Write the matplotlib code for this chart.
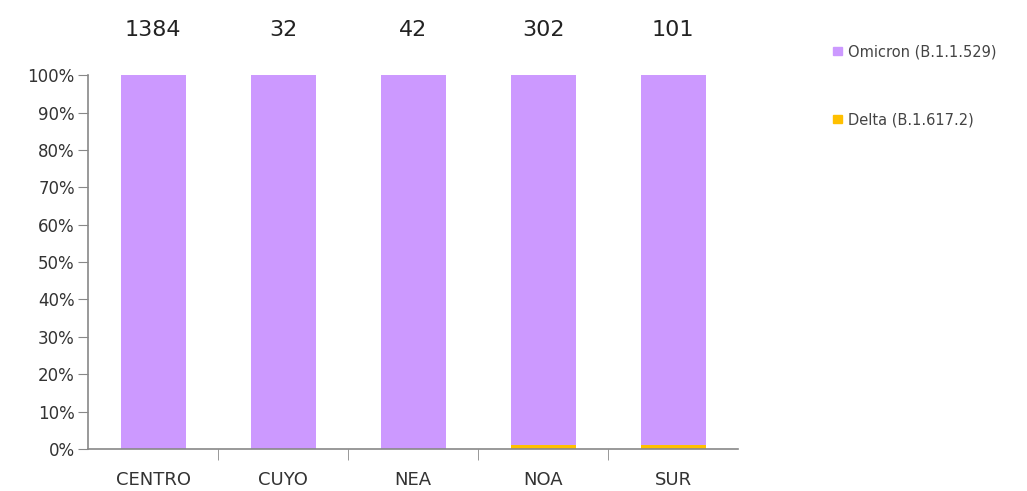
import matplotlib
matplotlib.use("Agg")
import matplotlib.pyplot as plt
from matplotlib.ticker import FuncFormatter, FixedLocator
import numpy as np

regions = ["CENTRO", "CUYO", "NEA", "NOA", "SUR"]
totals = [1384, 32, 42, 302, 101]
delta = [0.0, 0.0, 0.0, 0.01, 0.01]
omicron = [1.0, 1.0, 1.0, 0.99, 0.99]
series_names = ["Omicron (B.1.1.529)", "Delta (B.1.617.2)"]

c_omi = "#CC99FF"
c_del = "#FFC000"

plt.rcParams['font.family'] = ['DejaVu Sans']

fig = plt.figure(figsize=(10.27, 4.91), dpi=100)
ax = fig.add_axes([0.0857, 0.0855, 0.633, 0.7615])

x = np.arange(len(regions))
ax.bar(x, delta, width=0.5, color=c_del, label=series_names[1])
ax.bar(x, omicron, width=0.5, bottom=delta, color=c_omi, label=series_names[0])

ax.set_xlim(-0.5, len(regions) - 0.5)
ax.set_ylim(0, 1)
ax.yaxis.set_major_locator(FixedLocator(np.arange(0, 1.01, 0.1)))
ax.yaxis.set_major_formatter(FuncFormatter(lambda v, p: f"{v*100:.0f}%"))
ax.set_xticks(x)
ax.set_xticklabels(regions)
ax.set_xticks(np.arange(0.5, len(regions) - 0.5, 1), minor=True)
ax.tick_params(axis='x', which='major', length=0, pad=16, labelsize=13, colors='#333333')
ax.tick_params(axis='x', which='minor', length=8, color='#888888')
ax.tick_params(axis='y', length=7.5, color='#888888', labelsize=12, labelcolor='#333333', pad=2)

for s in ['top', 'right']:
    ax.spines[s].set_visible(False)
for s in ['left', 'bottom']:
    ax.spines[s].set_color('#888888')
    ax.spines[s].set_linewidth(1.2)

for xi, t in zip(x, totals):
    ax.text(xi, 1.12, str(t), ha='center', va='center', fontsize=16, color='#222222',
            transform=ax.get_xaxis_transform())

# legend
fig.patches.append(plt.Rectangle((833/1027, 1 - 55/491), 9/1027, 8/491, transform=fig.transFigure,
                                 color=c_omi))
fig.text(848/1027, 1 - 52/491, series_names[0], fontsize=10.5, color='#444444', va='center')
fig.patches.append(plt.Rectangle((833/1027, 1 - 123/491), 9/1027, 8/491, transform=fig.transFigure,
                                 color=c_del))
fig.text(848/1027, 1 - 120/491, series_names[1], fontsize=10.5, color='#444444', va='center')

fig.savefig("out.png", dpi=100)
